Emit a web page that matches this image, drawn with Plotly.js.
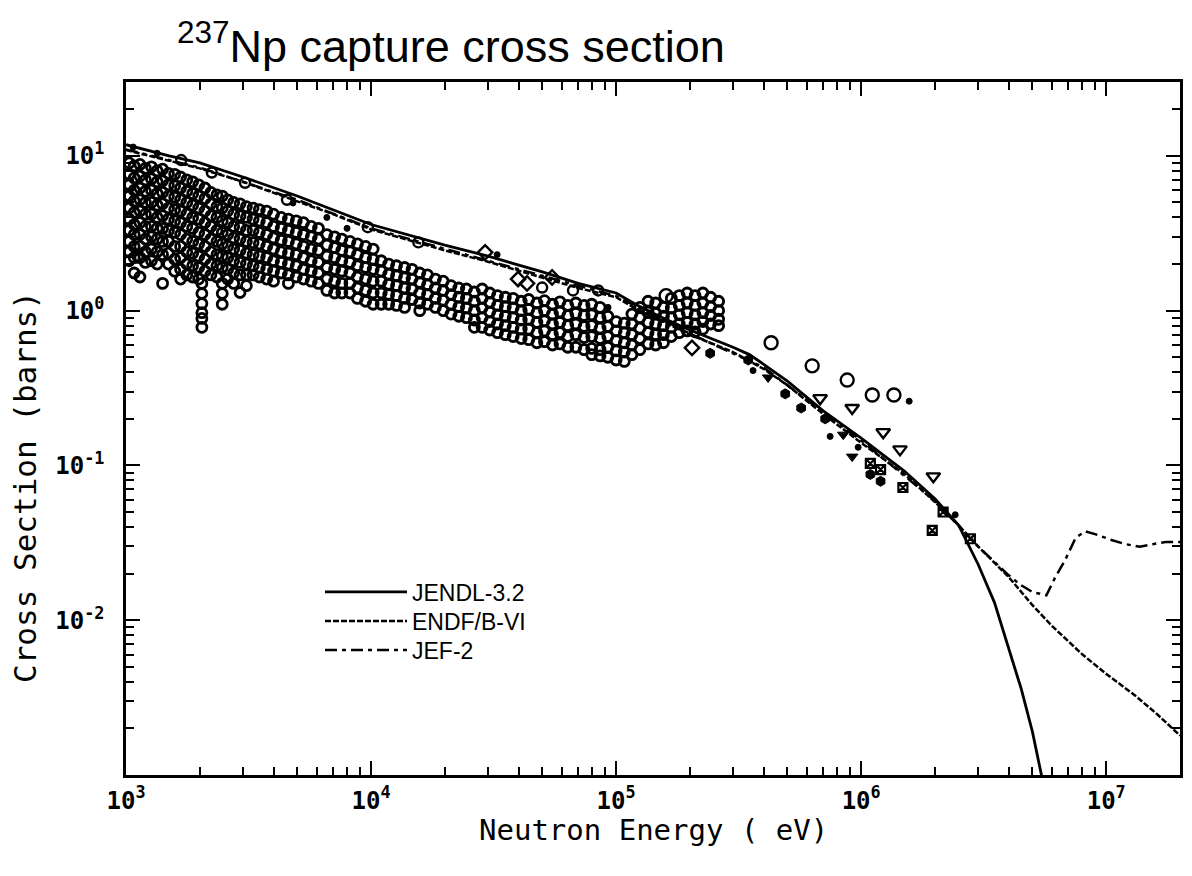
<!DOCTYPE html>
<html>
<head>
<meta charset="utf-8">
<script src="https://cdn.plot.ly/plotly-3.0.1.min.js"></script>
<style>html,body{margin:0;padding:0;background:#fff;}#chart{width:1192px;height:876px;}</style>
</head>
<body>
<div id="chart"></div>
<script>
// ---- Evaluated curves (energy in eV, cross section in barns) ----
const JENDL_E = [1e3,1.5e3,2e3,3e3,5e3,7e3,1e4,2e4,3e4,5e4,7e4,1e5,1.2e5,1.5e5,2e5,3e5,3.5e5,4e5,5e5,7e5,1e6,1.5e6,2e6,2.5e6,3e6,3.5e6,4e6,4.5e6,5e6,5.5e6,6e6];
const JENDL_S = [11.8,10.0,9.0,7.3,5.5,4.5,3.6,2.65,2.25,1.78,1.5,1.3,1.1,0.92,0.75,0.58,0.52,0.45,0.35,0.225,0.15,0.092,0.061,0.041,0.023,0.013,0.0065,0.0036,0.0019,0.00092,0.0004];

const ENDF_E = [1e3,1.5e3,2e3,3e3,5e3,7e3,1e4,2e4,3e4,5e4,7e4,1e5,1.2e5,1.5e5,2e5,3e5,4e5,5e5,7e5,1e6,1.5e6,2e6,2.5e6,3e6,4e6,5e6,6e6,8e6,1e7,1.3e7,1.6e7,2e7];
const ENDF_S = [10.9,9.3,8.3,6.8,5.1,4.2,3.35,2.45,2.07,1.64,1.4,1.22,1.03,0.87,0.7,0.54,0.42,0.33,0.215,0.14,0.088,0.058,0.041,0.030,0.019,0.0125,0.0092,0.006,0.0045,0.0033,0.0025,0.0018];

const JEF_E = [1e3,2e3,5e3,1e4,3e4,1e5,2e5,4e5,7e5,1e6,2e6,3e6,4e6,4.5e6,5e6,5.7e6,6.2e6,6.8e6,7.5e6,8.2e6,9e6,1.05e7,1.2e7,1.37e7,1.55e7,1.75e7,2e7];
const JEF_S = [11.0,8.4,5.2,3.4,2.1,1.24,0.71,0.43,0.22,0.145,0.059,0.030,0.0195,0.0168,0.0152,0.0145,0.019,0.0245,0.034,0.0375,0.036,0.033,0.031,0.0298,0.031,0.032,0.032];

// ---- Experimental data: resonance-region band (column energies, values per column) ----
const BAND_E = [1.03e3,1.08e3,1.14e3,1.2e3,1.27e3,1.34e3,1.41e3,1.49e3,1.58e3,1.67e3,1.77e3,1.87e3,1.98e3,2.04e3,2.1e3,2.22e3,2.35e3,2.47e3,2.6e3,2.75e3,2.92e3,3.1e3,3.3e3,3.5e3,3.75e3,4.0e3,4.3e3,4.6e3,4.95e3,5.3e3,5.7e3,6.1e3,6.6e3,7.1e3,7.6e3,8.2e3,8.8e3,9.5e3,1.02e4,1.1e4,1.18e4,1.27e4,1.37e4,1.47e4,1.58e4,1.7e4,1.83e4,1.97e4,2.12e4,2.28e4,2.45e4,2.64e4,2.84e4,3.05e4,3.28e4,3.53e4,3.8e4,4.1e4,4.4e4,4.75e4,5.1e4,5.5e4,5.9e4,6.35e4,6.85e4,7.4e4,7.95e4,8.6e4,9.25e4,1.0e5,1.08e5,1.16e5,1.25e5,1.35e5,1.45e5,1.56e5,1.68e5,1.81e5,1.95e5,2.1e5,2.26e5,2.43e5,2.62e5];
const BAND_S = [
 [9.0,7.6,6.5,5.5,4.6,3.9,3.3,2.8,2.4,2.1],
 [8.6,7.2,6.0,5.1,4.3,3.6,3.1,2.6,2.2,1.75],
 [8.8,7.4,6.2,5.2,4.4,3.7,3.1,2.6,2.2,1.65],
 [8.3,7.0,5.9,5.0,4.2,3.5,2.9,2.4,2.05],
 [8.5,7.1,6.0,5.0,4.2,3.5,3.0,2.5,2.1],
 [8.0,6.8,5.7,4.8,4.0,3.4,2.9,2.4,2.0],
 [8.2,6.9,5.8,4.9,4.1,3.4,2.8,2.3,1.5],
 [7.7,6.5,5.5,4.6,3.9,3.3,2.8,2.35,2.0],
 [7.6,6.4,5.4,4.5,3.8,3.2,2.6,2.15,1.8],
 [7.3,6.2,5.2,4.4,3.7,3.1,2.6,2.2,1.85,1.6],
 [7.0,5.9,5.0,4.2,3.5,2.9,2.4,2.0,1.7],
 [6.8,5.7,4.8,4.0,3.4,2.8,2.35,1.95,1.65],
 [6.5,5.5,4.6,3.9,3.2,2.7,2.25,1.9,1.6],
 [1.5,1.29,1.11,0.97,0.89,0.78],
 [6.2,5.3,4.4,3.7,3.1,2.6,2.15,1.8],
 [5.8,4.9,4.1,3.5,2.9,2.4,2.0,1.7],
 [5.6,4.7,4.0,3.3,2.8,2.3,1.95,1.65],
 [5.5,4.6,3.8,3.2,2.7,2.25,1.9,1.5,1.29,1.1],
 [5.2,4.4,3.7,3.1,2.6,2.2,1.85,1.6],
 [5.0,4.2,3.5,2.95,2.5,2.1,1.75,1.5],
 [4.9,4.1,3.45,2.9,2.45,2.05,1.7,1.31],
 [4.7,4.0,3.3,2.8,2.35,2.0,1.7,1.45],
 [4.6,3.9,3.3,2.75,2.3,1.95,1.7],
 [4.5,3.8,3.2,2.7,2.25,1.9,1.65],
 [4.4,3.7,3.1,2.6,2.2,1.85,1.6],
 [4.2,3.5,2.95,2.5,2.1,1.8,1.55],
 [4.0,3.4,2.85,2.4,2.05,1.75],
 [3.9,3.3,2.8,2.35,2.0,1.7,1.5],
 [3.8,3.2,2.7,2.3,1.95,1.65],
 [3.7,3.1,2.6,2.2,1.85,1.6],
 [3.5,3.0,2.5,2.1,1.8,1.55],
 [3.4,2.9,2.45,2.05,1.75,1.5],
 [3.1,2.65,2.25,1.9,1.6,1.35],
 [3.0,2.55,2.2,1.85,1.55,1.3],
 [2.9,2.45,2.1,1.8,1.5,1.3],
 [2.8,2.4,2.05,1.75,1.5,1.3],
 [2.7,2.3,1.95,1.65,1.4,1.2],
 [2.6,2.2,1.9,1.6,1.35,1.15],
 [2.5,2.15,1.85,1.55,1.3,1.1],
 [2.1,1.8,1.55,1.3,1.1],
 [2.0,1.72,1.48,1.27,1.1],
 [1.95,1.68,1.45,1.25,1.08],
 [1.9,1.63,1.4,1.2,1.05],
 [1.85,1.6,1.38,1.18],
 [1.75,1.52,1.3,1.12,1.0],
 [1.7,1.47,1.27,1.1],
 [1.6,1.4,1.2,1.05],
 [1.55,1.35,1.17,1.0],
 [1.45,1.27,1.1,0.95],
 [1.4,1.22,1.06,0.92],
 [1.38,1.2,1.04,0.9],
 [1.32,1.15,1.0,0.87,0.78],
 [1.38,1.2,1.04,0.9,0.78],
 [1.3,1.13,0.98,0.85,0.75],
 [1.25,1.08,0.94,0.82,0.72],
 [1.22,1.06,0.92,0.8,0.7],
 [1.2,1.04,0.9,0.78,0.68],
 [1.15,1.0,0.87,0.76,0.66],
 [1.18,1.02,0.88,0.76,0.65],
 [1.12,0.97,0.84,0.72,0.62],
 [1.16,1.0,0.86,0.74,0.63],
 [1.1,0.95,0.82,0.7,0.6],
 [1.14,0.98,0.84,0.72,0.61],
 [1.08,0.93,0.8,0.68,0.58],
 [1.12,0.96,0.82,0.7,0.58],
 [1.08,0.93,0.79,0.67,0.56],
 [1.1,0.94,0.8,0.68,0.57,0.52],
 [1.05,0.9,0.77,0.66,0.56,0.51],
 [0.92,0.79,0.68,0.58,0.5],
 [0.85,0.74,0.64,0.55,0.48],
 [0.83,0.72,0.62,0.54,0.47],
 [0.95,0.82,0.7,0.6,0.52],
 [1.05,0.9,0.77,0.66,0.56],
 [1.15,0.98,0.84,0.72,0.61],
 [1.12,0.96,0.82,0.7,0.6],
 [1.05,0.92,0.8,0.7,0.62],
 [1.2,1.04,0.9,0.78,0.68],
 [1.25,1.08,0.94,0.82,0.72],
 [1.3,1.12,0.97,0.84,0.74],
 [1.25,1.08,0.94,0.82,0.73],
 [1.3,1.12,0.97,0.85,0.76],
 [1.22,1.06,0.93,0.82],
 [1.15,1.0,0.88,0.8]
];

// ---- Other experimental points ----
const CIRCLE_E = [1.68e3,2.24e3,3.06e3,4.54e3,9.7e3,1.56e4,4.99e4,6.67e4,8.45e4];
const CIRCLE_S = [9.4,7.8,6.7,5.2,3.46,2.76,1.41,1.35,1.35];
const BIGCIRCLE_E = [1.6e5,4.29e5,6.31e5,8.77e5,1.11e6,1.36e6];
const BIGCIRCLE_S = [1.25,0.62,0.44,0.356,0.285,0.285];
const DIAMOND_E = [2.92e4,3.98e4,4.33e4,5.48e4,2.04e5];
const DIAMOND_S = [2.38,1.6,1.5,1.64,0.575];
const TRI_OPEN_E = [6.8e5,9.19e5,1.23e6,1.44e6,1.97e6];
const TRI_OPEN_S = [0.272,0.235,0.164,0.127,0.085];
const HEX_E = [2.42e5,3.46e5,4.9e5,5.69e5,7.13e5,1.09e6,1.2e6];
const HEX_S = [0.53,0.48,0.29,0.235,0.2,0.0875,0.079];
const DOT_E = [1.07e3,1.34e3,4.8e3,6.6e3,7.98e3,3.27e4,9.27e4,3.62e5,7.47e5,9.72e5,1.57e6,2.42e6];
const DOT_S = [11.4,10.4,4.96,4.0,3.4,2.3,1.05,0.41,0.154,0.131,0.26,0.048];
const XSQ_E = [1.09e6,1.2e6,1.48e6,1.95e6,2.16e6,2.79e6];
const XSQ_S = [0.103,0.094,0.072,0.038,0.05,0.0336];
const TRI_FILLED_E = [4.17e5,8.45e5,9.19e5];
const TRI_FILLED_S = [0.37,0.158,0.114];

// ---- Axis tick labels ----
const X_TICKS = [1e3,1e4,1e5,1e6,1e7];
const X_LABELS = ['10<sup>3</sup>','10<sup>4</sup>','10<sup>5</sup>','10<sup>6</sup>','10<sup>7</sup>'];
const Y_TICKS = [1e-2,1e-1,1,10];
const Y_LABELS = ['10<sup>-2</sup>','10<sup>-1</sup>','10<sup>0</sup>','10<sup>1</sup>'];

// flatten band
const bandX = [], bandY = [];
BAND_E.forEach((e, i) => BAND_S[i].forEach(v => { bandX.push(e); bandY.push(v); }));

const K = '#000';
function pts(x, y, symbol, size, lw) {
  return {x, y, type: 'scatter', mode: 'markers', showlegend: false, hoverinfo: 'x+y',
          marker: {symbol, size, color: K, line: {color: K, width: lw}}};
}

const traces = [
  pts(bandX, bandY, 'circle-open', 10, 2.8),
  pts(CIRCLE_E, CIRCLE_S, 'circle-open', 10, 2.4),
  pts(BIGCIRCLE_E, BIGCIRCLE_S, 'circle-open', 13, 2.4),
  pts(DIAMOND_E, DIAMOND_S, 'diamond-open', 11, 2.4),
  pts(TRI_OPEN_E, TRI_OPEN_S, 'triangle-down-open', 12, 2.4),
  pts(HEX_E, HEX_S, 'hexagon', 10, 1),
  pts(DOT_E, DOT_S, 'circle', 6, 1),
  pts(XSQ_E, XSQ_S, 'square-x-open', 9, 2.2),
  pts(TRI_FILLED_E, TRI_FILLED_S, 'triangle-down', 10, 1),
  {x: JEF_E, y: JEF_S, name: 'JEF-2', legend: 'legend3', type: 'scatter', mode: 'lines',
   line: {color: K, width: 2.5, dash: '12px,5px,4px,5px'}},
  {x: ENDF_E, y: ENDF_S, name: 'ENDF/B-VI', legend: 'legend2', type: 'scatter', mode: 'lines',
   line: {color: K, width: 2.5, dash: '6px,2px'}},
  {x: JENDL_E, y: JENDL_S, name: 'JENDL-3.2', legend: 'legend', type: 'scatter', mode: 'lines',
   line: {color: K, width: 2.8}}
];

const tickFont = {family: 'DejaVu Sans Mono', size: 24, color: K, weight: 'bold'};
const axisCommon = {
  type: 'log', showgrid: false, zeroline: false, showline: true, linecolor: K, linewidth: 2.5,
  mirror: 'ticks', ticks: 'inside', ticklen: 14, tickwidth: 2, tickcolor: K,
  tickmode: 'array', tickfont: tickFont,
  minor: {dtick: 'D1', ticks: 'inside', ticklen: 8, tickwidth: 2, tickcolor: K, showgrid: false}
};

const legendFont = {family: 'Liberation Sans', size: 23, color: K};
function legendAt(yPix) {
  return {x: (320-126)/1054, y: (775-yPix)/693, xanchor: 'left', yanchor: 'middle',
          bgcolor: 'rgba(0,0,0,0)', borderwidth: 0, itemwidth: 82, font: legendFont};
}

const layout = {
  width: 1192, height: 876,
  margin: {l: 126, r: 12, t: 82, b: 101},
  paper_bgcolor: '#fff', plot_bgcolor: '#fff',
  title: {text: '<sup>237</sup>Np capture cross section', font: {family: 'Liberation Sans', size: 45, color: K},
          xref: 'container', yref: 'container', x: 177/1192, xanchor: 'left', y: 1 - 46/876, yanchor: 'middle'},
  xaxis: Object.assign({}, axisCommon, {range: [3, Math.log10(2e7)], tickvals: X_TICKS, ticktext: X_LABELS, ticklabelstandoff: 2}),
  yaxis: Object.assign({}, axisCommon, {range: [-3, Math.log10(30)], tickvals: Y_TICKS, ticktext: Y_LABELS, ticklabelstandoff: 14}),
  showlegend: true,
  legend: legendAt(592),
  legend2: legendAt(621),
  legend3: legendAt(650),
  annotations: [
    {text: 'Neutron Energy ( eV)', xref: 'paper', yref: 'paper', x: 0.5, y: (775-830)/693,
     xanchor: 'center', yanchor: 'middle', showarrow: false,
     font: {family: 'DejaVu Sans Mono', size: 29, color: K}},
    {text: 'Cross Section (barns)', xref: 'paper', yref: 'paper', x: (25-126)/1054, y: (775-487)/693,
     xanchor: 'center', yanchor: 'middle', showarrow: false, textangle: -90,
     font: {family: 'DejaVu Sans Mono', size: 31, color: K}}
  ]
};

Plotly.newPlot('chart', traces, layout, {displayModeBar: false, responsive: false});
</script>
</body>
</html>
